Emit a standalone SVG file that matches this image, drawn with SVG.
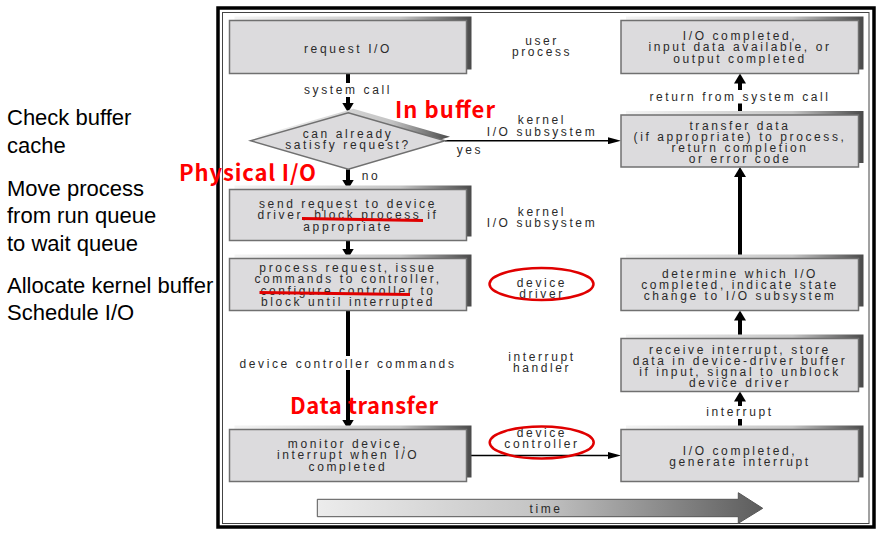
<svg xmlns="http://www.w3.org/2000/svg" width="882" height="533" viewBox="0 0 882 533">
<defs>
<style>
.lt{font-family:"Liberation Sans",Arial,sans-serif;font-size:22px;fill:#000}
.t{font-family:"Liberation Sans",Arial,sans-serif;font-size:12px;letter-spacing:2.6px;fill:#2a2a2a;text-anchor:middle}
.box{fill:#dcdbdd;stroke:#707070;stroke-width:1.5}
.sh{fill:url(#shg)}
.thick{stroke:#000;stroke-width:4;fill:none}
.thin{stroke:#000;stroke-width:1.5;fill:none}
.red{font-family:"Noto Sans CJK SC","Noto Sans",sans-serif;font-weight:bold;font-size:22px;fill:#ff0000}
.ul{stroke:#e00000;stroke-width:3;fill:none}
.ell{fill:none;stroke:#e00000;stroke-width:2.5}
</style>
<linearGradient id="shg" x1="0" y1="0" x2="1" y2="0">
<stop offset="0" stop-color="#f4f4f4"/>
<stop offset="0.7" stop-color="#c4c4c4"/>
<stop offset="1" stop-color="#4a4a4a"/>
</linearGradient>
<linearGradient id="tg" x1="0" y1="0" x2="1" y2="0">
<stop offset="0" stop-color="#ececec"/>
<stop offset="0.5" stop-color="#c4c4c4"/>
<stop offset="1" stop-color="#5c5c5c"/>
</linearGradient>
<marker id="ah" viewBox="0 0 10 12" refX="3" refY="6" markerWidth="10" markerHeight="12" markerUnits="userSpaceOnUse" orient="auto">
<path d="M0,0 L10,6 L0,12 z" fill="#000"/>
</marker>
<marker id="ahs" viewBox="0 0 13 7" refX="4" refY="3.5" markerWidth="13" markerHeight="7" markerUnits="userSpaceOnUse" orient="auto">
<path d="M0,0 L13,3.5 L0,7 z" fill="#000"/>
</marker>
</defs>
<rect width="882" height="533" fill="#fff"/>

<g id="left-notes">
<text class="lt" x="7" y="125">Check buffer</text>
<text class="lt" x="7" y="153">cache</text>
<text class="lt" x="7" y="196">Move process</text>
<text class="lt" x="7" y="223">from run queue</text>
<text class="lt" x="7" y="251">to wait queue</text>
<text class="lt" x="7" y="293">Allocate kernel buffer</text>
<text class="lt" x="7" y="320">Schedule I/O</text>
</g>

<g id="frame">
<rect x="218" y="8" width="656" height="519" fill="#fff" stroke="#000" stroke-width="3.5"/>
<rect x="222.5" y="12.5" width="646.5" height="511" fill="none" stroke="#444" stroke-width="1"/>
</g>

<g id="lane-labels">
<text class="t" x="542" y="45">user</text>
<text class="t" x="542" y="56">process</text>
<text class="t" x="542" y="124">kernel</text>
<text class="t" x="542" y="136">I/O subsystem</text>
<text class="t" x="542" y="216">kernel</text>
<text class="t" x="542" y="227">I/O subsystem</text>
<text class="t" x="542" y="287">device</text>
<text class="t" x="542" y="298">driver</text>
<text class="t" x="542" y="361">interrupt</text>
<text class="t" x="542" y="372">handler</text>
<text class="t" x="542" y="437">device</text>
<text class="t" x="542" y="448">controller</text>
</g>

<g id="connectors">
<line class="thick" x1="348" y1="73.5" x2="348" y2="83"/>
<line class="thick" x1="348" y1="97" x2="348" y2="105.5" marker-end="url(#ah)"/>
<text class="t" x="348" y="94">system call</text>
<line class="thick" x1="348" y1="169.3" x2="348" y2="182.5" marker-end="url(#ah)"/>
<text class="t" x="371" y="180">no</text>
<line class="thick" x1="348" y1="240.5" x2="348" y2="251.5" marker-end="url(#ah)"/>
<line class="thick" x1="348" y1="310.5" x2="348" y2="356"/>
<line class="thick" x1="348" y1="370" x2="348" y2="422.5" marker-end="url(#ah)"/>
<text class="t" x="348" y="367.5">device controller commands</text>
<line class="thin" x1="445" y1="140.7" x2="612" y2="140.7" marker-end="url(#ahs)"/>
<text class="t" x="470" y="153.5">yes</text>
<line class="thin" x1="466.5" y1="455.5" x2="612" y2="455.5" marker-end="url(#ahs)"/>
<line class="thick" x1="740" y1="429.5" x2="740" y2="419"/>
<line class="thick" x1="740" y1="406" x2="740" y2="398.5" marker-end="url(#ah)"/>
<text class="t" x="740" y="416">interrupt</text>
<line class="thick" x1="740" y1="338.5" x2="740" y2="317.5" marker-end="url(#ah)"/>
<line class="thick" x1="740" y1="258.5" x2="740" y2="174" marker-end="url(#ah)"/>
<line class="thick" x1="740" y1="115" x2="740" y2="103.5"/>
<line class="thick" x1="740" y1="90" x2="740" y2="80.5" marker-end="url(#ah)"/>
<text class="t" x="740" y="100.5">return from system call</text>
</g>

<g id="request-io">
<rect class="sh" x="234.5" y="16.5" width="237" height="53"/>
<rect class="box" x="229.5" y="20.5" width="237" height="53"/>
<text class="t" x="348" y="53">request I/O</text>
</g>

<g id="decision">
<polygon class="sh" points="255.7,136.7 353.3,108.7 450,136.7 353.3,165.3"/>
<polygon class="box" points="250.7,140.7 348.3,112.7 445,140.7 348.3,169.3"/>
<text class="t" x="348" y="137.5">can already</text>
<text class="t" x="348" y="148.5">satisfy request?</text>
</g>

<g id="send-request">
<rect class="sh" x="234.5" y="185.5" width="237" height="51"/>
<rect class="box" x="229.5" y="189.5" width="237" height="51"/>
<text class="t" x="348" y="207.5">send request to device</text>
<text class="t" x="348" y="219">driver, block process if</text>
<text class="t" x="348" y="230.5">appropriate</text>
</g>

<g id="process-request">
<rect class="sh" x="234.5" y="254.5" width="237" height="52"/>
<rect class="box" x="229.5" y="258.5" width="237" height="52"/>
<text class="t" x="348" y="271.5">process request, issue</text>
<text class="t" x="348" y="283">commands to controller,</text>
<text class="t" x="348" y="294.5">configure controller to</text>
<text class="t" x="348" y="305.5">block until interrupted</text>
</g>

<g id="monitor-device">
<rect class="sh" x="234.5" y="425.5" width="237" height="52"/>
<rect class="box" x="229.5" y="429.5" width="237" height="52"/>
<text class="t" x="348" y="447.5">monitor device,</text>
<text class="t" x="348" y="459">interrupt when I/O</text>
<text class="t" x="348" y="471">completed</text>
</g>

<g id="io-completed-user">
<rect class="sh" x="626" y="16.5" width="237.5" height="53"/>
<rect class="box" x="621" y="20.5" width="237.5" height="53"/>
<text class="t" x="740" y="39.5">I/O completed,</text>
<text class="t" x="740" y="51">input data available, or</text>
<text class="t" x="740" y="62.5">output completed</text>
</g>

<g id="transfer-data">
<rect class="sh" x="626" y="111" width="237.5" height="52"/>
<rect class="box" x="621" y="115" width="237.5" height="52"/>
<text class="t" x="740" y="129.5">transfer data</text>
<text class="t" x="740" y="141">(if appropriate) to process,</text>
<text class="t" x="740" y="152">return completion</text>
<text class="t" x="740" y="162.5">or error code</text>
</g>

<g id="determine">
<rect class="sh" x="626" y="254.5" width="237.5" height="52"/>
<rect class="box" x="621" y="258.5" width="237.5" height="52"/>
<text class="t" x="740" y="277.5">determine which I/O</text>
<text class="t" x="740" y="288.5">completed, indicate state</text>
<text class="t" x="740" y="299.5">change to I/O subsystem</text>
</g>

<g id="receive-interrupt">
<rect class="sh" x="626" y="334.5" width="237.5" height="53"/>
<rect class="box" x="621" y="338.5" width="237.5" height="53"/>
<text class="t" x="740" y="353.5">receive interrupt, store</text>
<text class="t" x="740" y="364.5">data in device-driver buffer</text>
<text class="t" x="740" y="375.5">if input, signal to unblock</text>
<text class="t" x="740" y="387">device driver</text>
</g>

<g id="generate-interrupt">
<rect class="sh" x="626" y="425.5" width="237.5" height="52"/>
<rect class="box" x="621" y="429.5" width="237.5" height="52"/>
<text class="t" x="740" y="454.5">I/O completed,</text>
<text class="t" x="740" y="465.5">generate interrupt</text>
</g>

<g id="time">
<polygon points="317.3,499.3 738.3,499.3 738.3,492.7 762.7,508.3 738.3,523.3 738.3,516.7 317.3,516.7" fill="url(#tg)" stroke="#555" stroke-width="1"/>
<text class="t" x="546" y="513">time</text>
</g>

<g id="annotations">
<ellipse class="ell" cx="541.5" cy="284" rx="52" ry="16"/>
<ellipse class="ell" cx="541.7" cy="442.5" rx="52" ry="16"/>
<path class="ul" d="M302,218.5 L423,220.5"/>
<path class="ul" d="M259.5,292.5 L410,294.5"/>
<text class="red" x="395" y="118" textLength="100" lengthAdjust="spacing">In buffer</text>
<text class="red" x="179" y="181" textLength="137" lengthAdjust="spacing">Physical I/O</text>
<text class="red" x="290" y="414" textLength="148" lengthAdjust="spacing">Data transfer</text>
</g>
</svg>
